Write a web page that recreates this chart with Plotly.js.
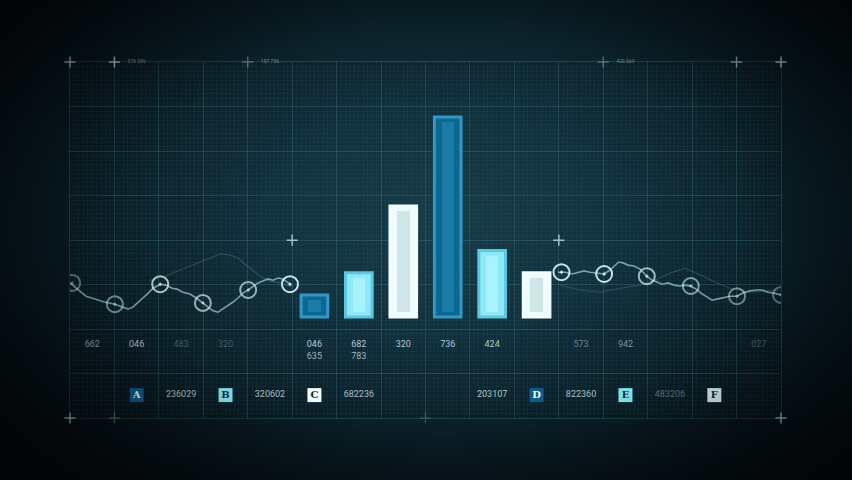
<!DOCTYPE html>
<html>
<head>
<meta charset="utf-8">
<script src="https://cdn.plot.ly/plotly-3.0.1.min.js"></script>
<style>
  html, body { margin:0; padding:0; width:852px; height:480px; overflow:hidden; }
  body { background: radial-gradient(ellipse 62% 68% at 52% 46%, #173b48 0%, #10303c 35%, #091c24 68%, #03080b 100%); }
  #chart { position:absolute; left:0; top:0; width:852px; height:480px; }
  #vig { position:absolute; left:0; top:0; width:852px; height:480px; pointer-events:none;
         background: radial-gradient(ellipse 64% 72% at 52% 48%, rgba(0,0,0,0) 58%, rgba(2,6,8,0.45) 88%, rgba(2,5,7,0.7) 100%); }
</style>
</head>
<body>
<div id="chart"></div>
<div id="vig"></div>
<script>
// ---- data ----
const barSlots   = [5, 6, 7, 8, 9, 10];
const barHeights = [0.5, 1.0, 2.5, 4.5, 1.5, 1.0];

const leftLineX = [0.00,0.18,0.36,0.56,0.77,1.01,1.17,1.31,1.42,1.53,1.64,1.76,1.87,2.03,2.16,2.30,2.41,2.54,2.70,2.84,2.99,3.11,3.22,3.33,3.44,3.56,3.67,3.78,3.89,4.01,4.12,4.23,4.34,4.46,4.57,4.68,4.79,4.95];
const leftLineY = [0.77,0.61,0.47,0.41,0.34,0.29,0.23,0.18,0.23,0.32,0.43,0.54,0.65,0.74,0.72,0.65,0.63,0.56,0.52,0.43,0.32,0.23,0.14,0.11,0.18,0.27,0.34,0.43,0.54,0.61,0.70,0.77,0.81,0.86,0.83,0.88,0.86,0.74];
const rightLineX = [10.98,11.14,11.30,11.43,11.57,11.70,11.86,12.02,12.15,12.26,12.35,12.44,12.56,12.69,12.83,12.98,13.10,13.21,13.32,13.46,13.59,13.73,13.86,13.97,14.09,14.20,14.31,14.45,14.58,14.72,14.85,15.01,15.14,15.30,15.44,15.57,15.71,15.84,16.00];
const rightLineY = [1.01,1.01,0.97,1.01,1.04,1.01,0.99,0.97,1.06,1.15,1.24,1.22,1.17,1.15,1.08,0.92,0.83,0.79,0.74,0.77,0.72,0.70,0.72,0.70,0.63,0.54,0.47,0.38,0.41,0.45,0.47,0.47,0.54,0.59,0.61,0.61,0.56,0.54,0.50];
const faintLeftX = [1.80,2.14,2.48,2.70,2.93,3.15,3.38,3.60,3.78,3.94,4.10,4.28,4.50,4.73,5.02];
const faintLeftY = [0.83,0.92,1.06,1.15,1.24,1.33,1.42,1.40,1.33,1.19,1.06,0.92,0.81,0.77,0.68];
const faintRightX = [11.03,11.48,11.93,12.38,12.83,13.16,13.50,13.84,14.18,14.51,14.85,15.30,16.00];
const faintRightY = [0.72,0.61,0.56,0.65,0.72,0.83,0.99,1.10,0.95,0.79,0.65,0.56,0.61];

const nodeX = [0.05,1.01,2.03,2.99,4.01,4.95,11.06,12.02,12.98,13.97,15.01,16.00];
const nodeY = [0.77,0.29,0.74,0.32,0.61,0.74,1.01,0.97,0.92,0.70,0.47,0.50];
const nodeAlpha = [0.45,0.55,0.8,0.7,0.7,0.95,0.95,0.95,0.75,0.6,0.5,0.4];

const valueSlots  = [0, 1, 2, 3, 5, 6, 7, 8, 9, 11, 12, 15];
const valueLabels = ["662","046","483","320","046","682","320","736","424","573","942","027"];
const valueAlpha  = [0.7,0.85,0.3,0.3,0.95,0.9,0.9,0.9,0.9,0.5,0.6,0.35];
const value2Slots  = [5, 6];
const value2Labels = ["635","783"];

const legendLetterSlots = [1, 3, 5, 10, 12, 14];
const legendLetters     = ["A","B","C","D","E","F"];
const legendNumSlots    = [2, 4, 6, 9, 11, 13];
const legendNumbers     = ["236029","320602","682236","203107","822360","483206"];
const legendNumAlpha    = [0.85,0.85,0.85,0.9,0.85,0.45];

const crossX = [0, 1, 4, 12, 15, 16, 0, 1, 16, 5, 11, 8];
const crossY = [5.74,5.74,5.74,5.74,5.74,5.74,-2.27,-2.27,-2.27,1.73,1.73,-2.27];
const crossAlpha = [0.8,0.8,0.35,0.35,0.6,0.8,0.85,0.35,0.8,0.8,0.8,0.2];
const topTagX = [1.5, 4.5, 12.5];
const topTags = ["576 586","157 756","426 569"];

// ---- styles ----
const darkBlue = {line:'#3199c4', fill:'#0c6893', inner:'#1a7ba6'};
const cyan     = {line:'#58c9e1', fill:'#8ee8f6', inner:'#a8f2fb'};
const white    = {line:'#f2fefe', fill:'#eefcfc', inner:'#cfe6e8'};
const barStyles = [darkBlue, cyan, white, darkBlue, cyan, white];
const letterBox = ['#0f5d8c','#7fe3ec','#f4fbfb','#0f5d8c','#7fe3ec','#d8f0f0'];
const letterCol = ['#ffffff','#0b2a33','#0b2a33','#ffffff','#0b2a33','#0b2a33'];

const center = s => s + 0.5;
const inset = 0.12;

const traces = [
  {type:'scatter', mode:'lines', x:faintLeftX, y:faintLeftY, line:{color:'rgba(150,200,210,0.22)', width:1.2}, hoverinfo:'skip'},
  {type:'scatter', mode:'lines', x:faintRightX, y:faintRightY, line:{color:'rgba(150,200,210,0.2)', width:1.2}, hoverinfo:'skip'},
  {type:'scatter', mode:'lines', x:leftLineX, y:leftLineY, line:{color:'rgba(160,210,218,0.7)', width:1.6}, hoverinfo:'skip'},
  {type:'scatter', mode:'lines', x:rightLineX, y:rightLineY, line:{color:'rgba(160,210,218,0.7)', width:1.6}, hoverinfo:'skip'},
  {type:'scatter', mode:'markers', x:nodeX, y:nodeY,
   marker:{symbol:'circle-open-dot', size:16, color:nodeAlpha.map(a=>`rgba(210,235,238,${a})`),
           line:{width:2, color:nodeAlpha.map(a=>`rgba(210,235,238,${a})`)}}, hoverinfo:'skip'},
  {type:'bar', x:barSlots.map(center), y:barHeights, width:0.6,
   marker:{color:barStyles.map(s=>s.fill), line:{color:barStyles.map(s=>s.line), width:3}}, hoverinfo:'skip'},
  {type:'bar', x:barSlots.map(center), y:barHeights.map(h=>Math.max(h-2*inset,0.04)), base:barHeights.map(()=>inset), width:0.28,
   marker:{color:barStyles.map(s=>s.inner), line:{width:0}}, hoverinfo:'skip'},
  {type:'scatter', mode:'text', x:valueSlots.map(center), y:valueSlots.map(()=>-0.63), text:valueLabels,
   textfont:{family:'Roboto', size:9, color:valueAlpha.map(a=>`rgba(200,222,226,${a})`)}, cliponaxis:false, hoverinfo:'skip'},
  {type:'scatter', mode:'text', x:value2Slots.map(center), y:value2Slots.map(()=>-0.9), text:value2Labels,
   textfont:{family:'Roboto', size:9, color:'rgba(200,222,226,0.8)'}, cliponaxis:false, hoverinfo:'skip'},
  {type:'scatter', mode:'markers+text', x:legendLetterSlots.map(center), y:legendLetterSlots.map(()=>-1.755),
   text:legendLetters.map(t=>'<b>'+t+'</b>'), textposition:'middle center',
   marker:{symbol:'square', size:14, color:letterBox},
   textfont:{family:'DejaVu Serif', size:10, color:letterCol}, cliponaxis:false, hoverinfo:'skip'},
  {type:'scatter', mode:'text', x:legendNumSlots.map(center), y:legendNumSlots.map(()=>-1.755), text:legendNumbers,
   textfont:{family:'Roboto', size:9, color:legendNumAlpha.map(a=>`rgba(200,222,226,${a})`)}, cliponaxis:false, hoverinfo:'skip'},
  {type:'scatter', mode:'markers', x:crossX, y:crossY,
   marker:{symbol:'cross-thin', size:8, line:{width:1.5, color:crossAlpha.map(a=>`rgba(190,225,230,${a})`)}},
   cliponaxis:false, hoverinfo:'skip'},
  {type:'scatter', mode:'text', x:topTagX, y:topTagX.map(()=>5.74), text:topTags,
   textfont:{family:'Roboto', size:5, color:'rgba(170,205,212,0.6)'}, cliponaxis:false, hoverinfo:'skip'}
];

const layout = {
  width:852, height:480,
  margin:{l:70, r:71, t:62, b:62},
  paper_bgcolor:'rgba(0,0,0,0)', plot_bgcolor:'rgba(0,0,0,0)',
  showlegend:false, barmode:'overlay', bargap:0,
  xaxis:{range:[0,16], tick0:0, dtick:1, showgrid:true, gridcolor:'rgba(110,185,205,0.2)', gridwidth:1,
         zeroline:false, showticklabels:false, ticks:'', showline:true, mirror:true, linecolor:'rgba(110,185,205,0.2)',
         minor:{tick0:0, dtick:0.1, showgrid:true, gridcolor:'rgba(110,185,205,0.05)', gridwidth:1}, fixedrange:true},
  yaxis:{range:[-2.27,5.74], tick0:-2.27, dtick:1, showgrid:true, gridcolor:'rgba(110,185,205,0.2)', gridwidth:1,
         zeroline:false, showticklabels:false, ticks:'', showline:true, mirror:true, linecolor:'rgba(110,185,205,0.2)',
         minor:{tick0:-2.27, dtick:0.1, showgrid:true, gridcolor:'rgba(110,185,205,0.05)', gridwidth:1}, fixedrange:true}
};

Plotly.newPlot('chart', traces, layout, {staticPlot:true, displayModeBar:false});
</script>
</body>
</html>
